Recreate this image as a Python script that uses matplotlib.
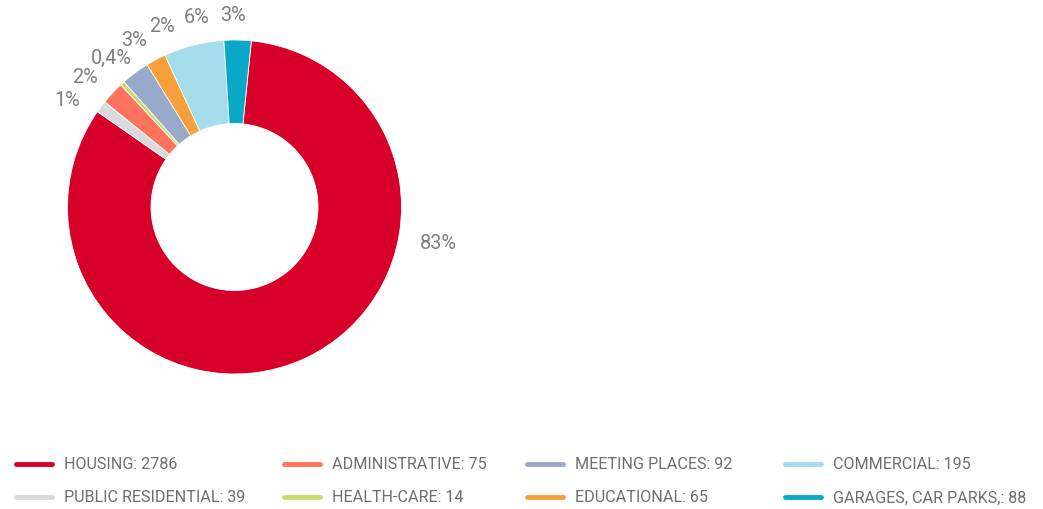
import numpy as np
import matplotlib
matplotlib.use("Agg")
import matplotlib.pyplot as plt
from matplotlib.lines import Line2D

plt.rcParams['font.family'] = ['Roboto', 'DejaVu Sans']

categories = ['HOUSING', 'PUBLIC RESIDENTIAL', 'ADMINISTRATIVE', 'HEALTH-CARE',
              'MEETING PLACES', 'EDUCATIONAL', 'COMMERCIAL', 'GARAGES, CAR PARKS,']
values = [2786, 39, 75, 14, 92, 65, 195, 88]
pct_labels = ['83%', '1%', '2%', '0,4%', '3%', '2%', '6%', '3%']
colors = ['#d6002a', '#d9dadc', '#ff735e', '#c4dd6a', '#99a9c9', '#f5a03b', '#a4dcea', '#0aa8c8']

# label placement tweaks (degrees from slice middle, radius in outer radii)
label_shift = [-55.5, -4.2, -2.0, 2.6, 5.5, 6.3, 2.9, -1.6]
label_rad = [1.24, 1.19, 1.19, 1.16, 1.17, 1.17, 1.16, 1.155]

W, H = 1043, 510
fig = plt.figure(figsize=(W / 100, H / 100), dpi=100)

# pie axes: centre (234.5, 208) px, outer radius 167 px
cx, cy, R = 234.5, 208, 167
a = 1.25
side = 2 * a * R
ax = fig.add_axes([(cx - side / 2) / W, (H - cy - side / 2) / H, side / W, side / H])
ax.set_xlim(-a, a)
ax.set_ylim(-a, a)
ax.axis('off')

start = 90 - 5.8
wedges, _ = ax.pie(values, colors=colors, startangle=start, counterclock=False,
                   radius=1, wedgeprops=dict(width=0.5, edgecolor='white', linewidth=0.6))

total = sum(values)
cum = 0
for v, lab, sh, rr in zip(values, pct_labels, label_shift, label_rad):
    mid = start - (cum + v / 2) / total * 360
    cum += v
    ang = np.deg2rad(mid - sh)
    ax.text(rr * np.cos(ang), rr * np.sin(ang), lab, ha='center', va='center',
            fontsize=14.3, color='#7f7f7f')

# legend drawn by hand, column-major like the original
col_x = [16, 284, 527, 785]
row_y = [465, 498]
for i, (cat, val, col) in enumerate(zip(categories, values, colors)):
    c, r = divmod(i, 2)
    x0 = col_x[c]
    y0 = H - row_y[r]
    fig.add_artist(Line2D([x0 / W, (x0 + 36) / W], [y0 / H, y0 / H], color=col,
                          linewidth=3.5, solid_capstyle='round', transform=fig.transFigure))
    fig.text((x0 + 48) / W, y0 / H, f'{cat}: {val}', fontsize=11.6, color='#6e6e6e',
             ha='left', va='center')

fig.savefig('out.png', dpi=100)
